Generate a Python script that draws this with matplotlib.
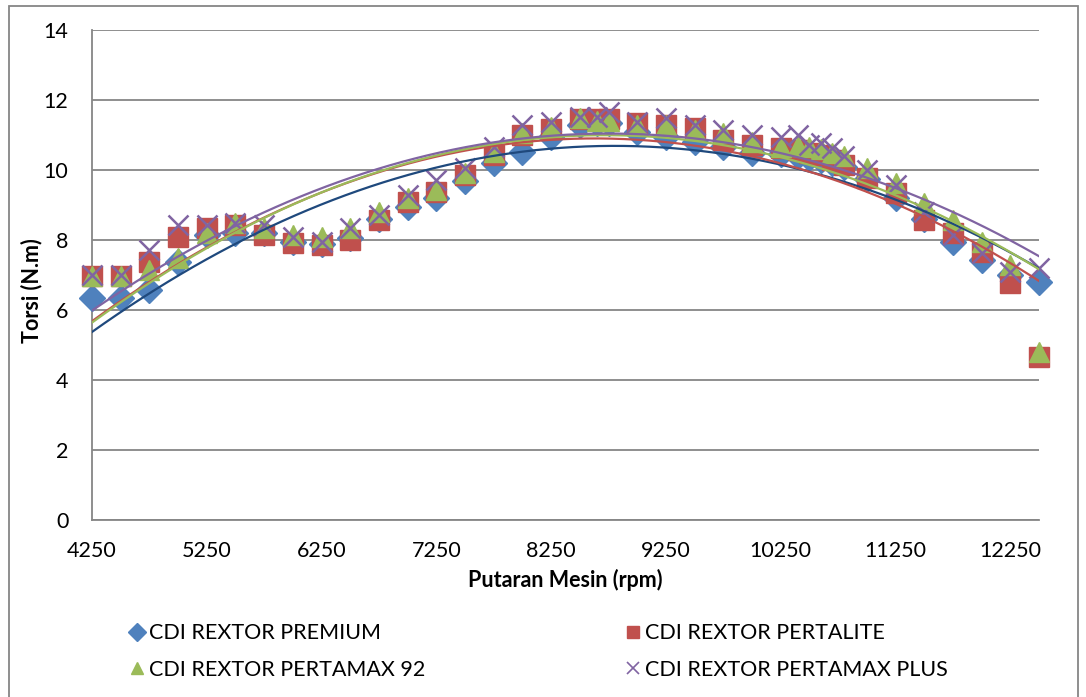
"""
Torsi vs putaran mesin for four fuels on a CDI Rextor, with quadratic trendlines.
"""

import numpy as np
import matplotlib
matplotlib.use("Agg")
import matplotlib.pyplot as plt
from matplotlib.lines import Line2D
from matplotlib.patches import Rectangle

rpm = [4250, 4500, 4750, 5000, 5250, 5500, 5750, 6000, 6250, 6500,
       6750, 7000, 7250, 7500, 7750, 8000, 8250, 8500, 8650, 8750,
       9000, 9250, 9500, 9750, 10000, 10250, 10400, 10500, 10600, 10700,
       10800, 11000, 11250, 11500, 11750, 12000, 12250, 12500]

premium = [6.34, 6.34, 6.57, 7.37, 8.15, 8.2, 8.2, 7.95, 7.9, 8.05,
           8.6, 8.95, 9.2, 9.7, 10.2, 10.51, 10.94, 11.3, 11.35, 11.35,
           11.1, 10.94, 10.8, 10.65, 10.5, 10.45, 10.4, 10.35, 10.3, 10.2,
           10.1, 9.75, 9.2, 8.6, 7.94, 7.43, 7.0, 6.8]

pertalite = [6.97, 6.97, 7.37, 8.09, 8.34, 8.43, 8.14, 7.91, 7.86, 8.0,
             8.57, 9.09, 9.37, 9.86, 10.43, 11.0, 11.17, 11.46, 11.46, 11.46,
             11.34, 11.29, 11.2, 10.86, 10.71, 10.63, 10.57, 10.5, 10.43, 10.3,
             10.14, 9.77, 9.34, 8.57, 8.2, 7.66, 6.77, 4.66]

pertamax92 = [6.97, 6.97, 7.14, 7.5, 8.2, 8.49, 8.34, 8.14, 8.09, 8.34,
              8.8, 9.2, 9.43, 9.91, 10.51, 11.06, 11.23, 11.49, 11.4, 11.4,
              11.3, 11.3, 11.14, 11.06, 10.8, 10.66, 10.7, 10.65, 10.6, 10.5,
              10.4, 10.06, 9.63, 9.06, 8.57, 7.94, 7.29, 4.8]

pertamax_plus = [7.0, 7.0, 7.71, 8.43, 8.43, 8.49, 8.43, 8.09, 7.94, 8.34,
                 8.71, 9.29, 9.71, 10.06, 10.66, 11.29, 11.37, 11.51, 11.51, 11.66,
                 11.37, 11.49, 11.29, 11.14, 11.0, 10.94, 11.0, 10.71, 10.77, 10.63,
                 10.4, 10.0, 9.57, 8.8, 8.14, 7.63, 7.09, 7.2]

labels = ["CDI REXTOR PREMIUM", "CDI REXTOR PERTALITE",
          "CDI REXTOR PERTAMAX 92", "CDI REXTOR PERTAMAX PLUS"]
x_ticks = [4250, 5250, 6250, 7250, 8250, 9250, 10250, 11250, 12250]
y_ticks = [0, 2, 4, 6, 8, 10, 12, 14]

plt.rcParams["font.family"] = ["Lato", "DejaVu Sans"]

# marker face, trendline colour, marker, marker size
styles = [
    ("#4F81BD", "#1F497D", "D", 13),
    ("#C0504D", "#C0504D", "s", 14),
    ("#9BBB59", "#9BBB59", "^", 15),
    ("#8064A2", "#8064A2", "x", 14),
]

fig = plt.figure(figsize=(10.86, 6.97), dpi=100)
ax = fig.add_axes([92 / 1086, 1 - 520 / 697, 947 / 1086, 490 / 697])

x = np.array(rpm, dtype=float)
xs = np.linspace(4250, 12500, 300)
series = [premium, pertalite, pertamax92, pertamax_plus]

for ys, (face, line_c, mk, ms) in zip(series, styles):
    if mk == "x":
        ax.plot(x, ys, ls="none", marker=mk, ms=ms, mew=1.8, color=face,
                zorder=3, clip_on=False)
    else:
        ax.plot(x, ys, ls="none", marker=mk, ms=ms, mfc=face, mec=face,
                zorder=3, clip_on=False)

# quadratic trendlines drawn over the markers
for ys, (face, line_c, mk, ms) in zip(series, styles):
    coef = np.polyfit(x, ys, 2)
    ax.plot(xs, np.polyval(coef, xs), color=line_c, lw=1.6, zorder=4)

ax.set_xlim(4250, 12500)
ax.set_ylim(0, 14)
ax.set_xticks(x_ticks)
ax.set_yticks(y_ticks)
ax.tick_params(length=0, labelsize=15.5)
ax.tick_params(axis="x", pad=15)
ax.tick_params(axis="y", pad=17)
ax.grid(axis="y", color="#868686", lw=1.3)
ax.set_axisbelow(True)
for side in ["top", "right"]:
    ax.spines[side].set_visible(False)
for side in ["left", "bottom"]:
    ax.spines[side].set_color("#868686")
    ax.spines[side].set_linewidth(1.3)

ax.set_xlabel("Putaran Mesin (rpm)", fontsize=15.5, fontweight="bold", labelpad=6)
ax.set_ylabel("Torsi (N.m)", fontsize=15.5, fontweight="bold")
ax.yaxis.set_label_coords(-0.052, 0.469)

# legend: two rows, two columns
handles = []
for (face, line_c, mk, ms), lab in zip(styles, labels):
    if mk == "x":
        h = Line2D([], [], ls="none", marker=mk, ms=9, mew=1.2, color=face, label=lab)
    else:
        h = Line2D([], [], ls="none", marker=mk, ms=9, mfc=face, mec=face, label=lab)
    handles.append(h)
order = [0, 2, 1, 3]
fig.legend([handles[i] for i in order], [labels[i] for i in order],
           loc="upper left", bbox_to_anchor=(110 / 1086, 1 - 604 / 697),
           ncol=2, frameon=False, fontsize=15.5, handlelength=0.7,
           handletextpad=0.2, columnspacing=9.3, labelspacing=0.75)

# outer chart border
fig.patches.append(Rectangle((9 / 1086, -0.05), 1069 / 1086, 1 - 6 / 697 + 0.05,
                             transform=fig.transFigure, fill=False,
                             edgecolor="#868686", lw=1.3))

fig.savefig("out.png", dpi=100)
